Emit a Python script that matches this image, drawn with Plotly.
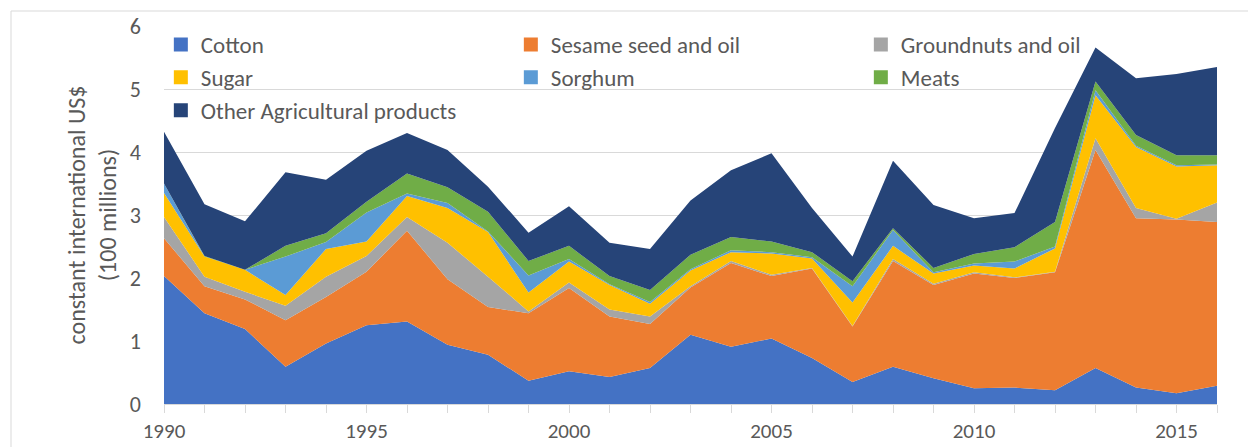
import plotly.graph_objects as go

years = list(range(1990, 2017))

cotton = [2.03, 1.44, 1.19, 0.59, 0.96, 1.25, 1.31, 0.94, 0.78, 0.37, 0.52, 0.43, 0.57, 1.10,
          0.91, 1.04, 0.73, 0.35, 0.59, 0.41, 0.25, 0.26, 0.22, 0.57, 0.26, 0.17, 0.29]
sesame = [0.60, 0.43, 0.47, 0.74, 0.74, 0.85, 1.44, 1.04, 0.76, 1.07, 1.32, 0.96, 0.70, 0.75,
          1.33, 0.99, 1.42, 0.88, 1.68, 1.48, 1.82, 1.74, 1.87, 3.46, 2.69, 2.76, 2.60]
groundnuts = [0.34, 0.15, 0.12, 0.23, 0.32, 0.25, 0.22, 0.58, 0.48, 0.03, 0.09, 0.11, 0.12, 0.02,
              0.03, 0.02, 0.01, 0.01, 0.03, 0.02, 0.02, 0.01, 0.01, 0.19, 0.16, 0.01, 0.31]
sugar = [0.38, 0.32, 0.35, 0.17, 0.44, 0.23, 0.33, 0.55, 0.71, 0.30, 0.33, 0.39, 0.20, 0.25,
         0.14, 0.34, 0.15, 0.37, 0.21, 0.16, 0.11, 0.14, 0.37, 0.68, 0.97, 0.83, 0.59]
sorghum = [0.15, 0.00, 0.00, 0.61, 0.11, 0.46, 0.04, 0.08, 0.01, 0.27, 0.04, 0.01, 0.03, 0.02,
           0.03, 0.02, 0.02, 0.26, 0.25, 0.02, 0.03, 0.11, 0.03, 0.08, 0.02, 0.02, 0.01]
meats = [0.00, 0.01, 0.00, 0.17, 0.14, 0.17, 0.32, 0.25, 0.31, 0.23, 0.21, 0.13, 0.19, 0.23,
         0.21, 0.17, 0.08, 0.08, 0.03, 0.07, 0.15, 0.23, 0.39, 0.14, 0.17, 0.16, 0.15]
other = [0.82, 0.82, 0.77, 1.17, 0.85, 0.81, 0.64, 0.59, 0.40, 0.45, 0.63, 0.53, 0.65, 0.86,
         1.06, 1.40, 0.70, 0.39, 1.07, 1.00, 0.57, 0.54, 1.49, 0.54, 0.90, 1.29, 1.40]

series_names = ["Cotton", "Sesame seed and oil", "Groundnuts and oil", "Sugar", "Sorghum",
                "Meats", "Other Agricultural products"]
series_values = [cotton, sesame, groundnuts, sugar, sorghum, meats, other]
colors = ["#4472C4", "#ED7D31", "#A5A5A5", "#FFC000", "#5B9BD5", "#70AD47", "#264478"]

tick_labels = [str(y) if y % 5 == 0 else "" for y in years]

FONT = "Carlito, Lato, sans-serif"
GREY = "#595959"

fig = go.Figure()
for name, vals, col in zip(series_names, series_values, colors):
    fig.add_trace(go.Scatter(
        x=years, y=vals, name=name, stackgroup="one", mode="lines",
        line=dict(width=0, color=col), fillcolor=col, showlegend=False,
        hoverinfo="x+y+name"))
# legend entries (square swatches)
for name, col in zip(series_names, colors):
    fig.add_trace(go.Scatter(
        x=[None], y=[None], name=name, mode="markers",
        marker=dict(symbol="square", size=14, color=col), showlegend=True))

L, R = 164, 1217
W = R - L
def px_x(p):
    return (p - L) / W
T, B = 26, 404
H = B - T
def px_y(p):
    return (B - p) / H

fig.update_layout(
    width=1248, height=447,
    margin=dict(l=L, r=1248 - R, t=T, b=447 - B, autoexpand=False),
    paper_bgcolor="white", plot_bgcolor="white",
    font=dict(family=FONT, color=GREY, size=22),
    legend=dict(orientation="h", x=-0.003, xanchor="left", y=px_y(23), yanchor="top",
                entrywidth=305, entrywidthmode="pixels", bgcolor="rgba(0,0,0,0)",
                font=dict(size=23, color=GREY), traceorder="normal", itemwidth=30),
    xaxis=dict(range=[1990, 2016], tickmode="array", tickvals=years, ticktext=tick_labels,
               ticks="outside", ticklen=8, tickcolor="#D9D9D9", showgrid=False,
               showline=True, linecolor="#D9D9D9", linewidth=1, zeroline=False,
               automargin=False,
               tickfont=dict(size=21, color=GREY), ticklabelstandoff=0),
    yaxis=dict(range=[0, 6], dtick=1, showgrid=True, gridcolor="#D9D9D9", gridwidth=1,
               zeroline=False, showline=False, ticks="", automargin=False,
               tickfont=dict(size=22, color=GREY), ticklabelstandoff=22,
               title=dict(text="constant international US$<br>(100 millions)",
                          font=dict(size=24, color=GREY), standoff=6)),
    shapes=[dict(type="rect", xref="paper", yref="paper",
                 x0=px_x(11), x1=px_x(1262), y0=px_y(460), y1=px_y(11),
                 line=dict(color="#D9D9D9", width=1), fillcolor="rgba(0,0,0,0)", layer="below")],
)

fig.write_html("out.html", config={"displayModeBar": False},
               post_script="document.body.style.margin='0';")
